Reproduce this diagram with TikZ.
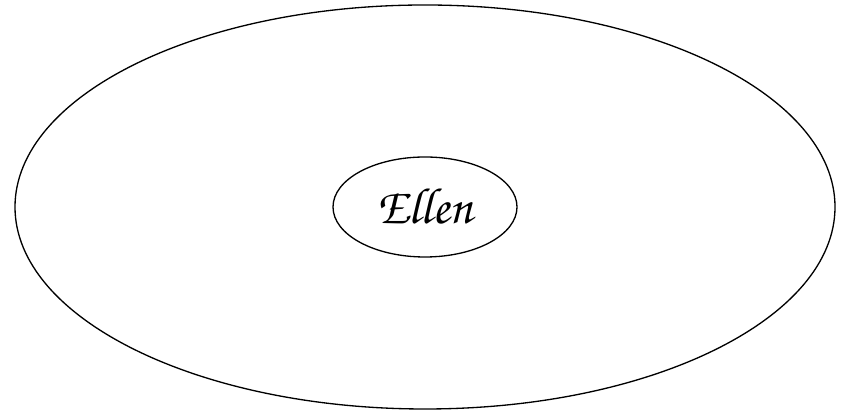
\documentclass[tikz,border=0pt]{standalone}
\usepackage{fontspec}
\newfontfamily\handfont{texgyrechorus-mediumitalic.otf}
\usetikzlibrary{positioning, shapes.geometric}

\begin{document}
\begin{tikzpicture}[
    worldshape/.style={ellipse, draw, line width=0.75pt, minimum width=16.4cm, minimum height=8.08cm, inner sep=0pt},
    personbox/.style={ellipse, draw, line width=0.75pt, minimum width=3.68cm, minimum height=2cm, inner sep=0pt, font=\handfont\fontsize{29}{33}\selectfont}
]
    \useasboundingbox (0,0) rectangle (16.86,8.24);
    \node[worldshape] (world) at (8.5,4.1) {};
    \node[personbox] (ellen) at (8.5,4.1) {Ellen};
\end{tikzpicture}
\end{document}
